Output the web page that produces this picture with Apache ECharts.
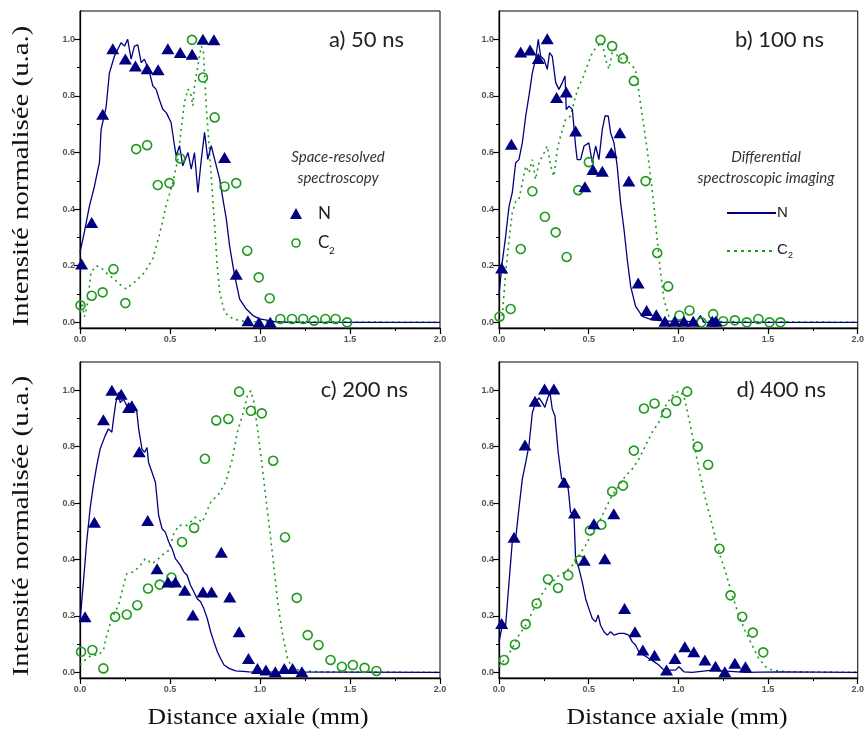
<!DOCTYPE html>
<html><head><meta charset="utf-8">
<script src="https://cdn.jsdelivr.net/npm/echarts@6/dist/echarts.min.js"></script>
<style>html,body{margin:0;padding:0;background:#fff}#c{width:867px;height:736px}</style>
</head><body><div id="c"></div>
<script>
// ---------- tick labels / titles ----------
const panelTitles = ['a) 50 ns', 'b) 100 ns', 'c) 200 ns', 'd) 400 ns'];
const yTickValues = [0, 0.2, 0.4, 0.6, 0.8, 1.0];
const yMinorValues = [0.1, 0.3, 0.5, 0.7, 0.9];
const yAxisTitle = 'Intensité normalisée (u.a.)';
const xAxisTitle = 'Distance axiale (mm)';

// ---------- panel a) 50 ns ----------
const nLineA = [[0,0.247],[0.024,0.318],[0.052,0.41],[0.08,0.48],[0.108,0.565],[0.117,0.68],[0.145,0.76],[0.163,0.88],[0.191,0.94],[0.21,0.965],[0.228,0.988],[0.247,0.976],[0.265,1.0],[0.284,0.93],[0.302,0.976],[0.321,0.98],[0.34,0.918],[0.358,0.93],[0.386,0.882],[0.405,0.835],[0.423,0.823],[0.44,0.788],[0.46,0.753],[0.48,0.74],[0.506,0.706],[0.525,0.624],[0.534,0.588],[0.553,0.624],[0.571,0.553],[0.6,0.6],[0.618,0.541],[0.636,0.6],[0.655,0.459],[0.674,0.576],[0.692,0.671],[0.71,0.576],[0.729,0.624],[0.748,0.576],[0.776,0.506],[0.794,0.435],[0.813,0.365],[0.831,0.27],[0.859,0.165],[0.887,0.082],[0.924,0.047],[0.961,0.024],[0.998,0.012],[1.09,0.002],[1.18,0],[2.0,0]];
const c2LineA = [[0,0.035],[0.012,0.07],[0.025,0.02],[0.04,0.06],[0.061,0.176],[0.089,0.2],[0.115,0.194],[0.152,0.171],[0.19,0.153],[0.219,0.135],[0.256,0.118],[0.302,0.141],[0.358,0.176],[0.404,0.224],[0.44,0.306],[0.478,0.412],[0.516,0.494],[0.544,0.576],[0.562,0.682],[0.58,0.776],[0.6,0.824],[0.618,0.8],[0.627,0.765],[0.636,0.835],[0.655,0.906],[0.674,0.976],[0.686,0.953],[0.701,0.765],[0.72,0.6],[0.735,0.459],[0.748,0.341],[0.761,0.212],[0.776,0.106],[0.803,0.035],[0.85,0.012],[0.924,0.002],[2.0,0]];
const nPtsA = [[0.009,0.206],[0.065,0.353],[0.126,0.735],[0.182,0.967],[0.252,0.93],[0.308,0.906],[0.373,0.896],[0.434,0.892],[0.488,0.967],[0.557,0.953],[0.623,0.947],[0.683,1.0],[0.744,0.998],[0.803,0.582],[0.868,0.17],[0.933,0.006],[0.994,0],[1.057,0]];
const c2PtsA = [[0.003,0.06],[0.065,0.094],[0.126,0.106],[0.186,0.188],[0.252,0.068],[0.312,0.612],[0.373,0.626],[0.432,0.485],[0.497,0.492],[0.557,0.579],[0.622,0.998],[0.683,0.865],[0.748,0.724],[0.803,0.48],[0.868,0.492],[0.929,0.253],[0.993,0.159],[1.054,0.085],[1.113,0.012],[1.178,0.012],[1.24,0.012],[1.3,0.006],[1.363,0.012],[1.42,0.012],[1.484,0]];

// ---------- panel b) 100 ns ----------
const nLineB = [[0,0.092],[0.015,0.198],[0.037,0.304],[0.056,0.41],[0.074,0.458],[0.093,0.564],[0.111,0.575],[0.13,0.634],[0.149,0.729],[0.167,0.8],[0.186,0.882],[0.204,0.929],[0.219,1.0],[0.232,0.94],[0.251,0.929],[0.269,0.894],[0.282,0.953],[0.297,0.94],[0.316,0.847],[0.334,0.823],[0.353,0.847],[0.368,0.87],[0.375,0.752],[0.39,0.764],[0.409,0.752],[0.427,0.623],[0.436,0.575],[0.455,0.575],[0.474,0.623],[0.501,0.634],[0.52,0.564],[0.539,0.623],[0.557,0.575],[0.576,0.682],[0.591,0.729],[0.609,0.729],[0.622,0.67],[0.641,0.634],[0.659,0.552],[0.678,0.422],[0.697,0.328],[0.715,0.222],[0.734,0.127],[0.761,0.057],[0.799,0.021],[0.854,0.009],[0.929,0.004],[1.04,0.004],[1.096,0],[1.123,0.024],[1.143,0],[2.0,0]];
const c2LineB = [[0,0.004],[0.019,0.027],[0.037,0.175],[0.056,0.292],[0.074,0.387],[0.093,0.428],[0.111,0.434],[0.13,0.493],[0.149,0.552],[0.167,0.528],[0.186,0.575],[0.204,0.505],[0.223,0.564],[0.251,0.599],[0.269,0.623],[0.288,0.552],[0.306,0.516],[0.325,0.611],[0.343,0.658],[0.371,0.717],[0.399,0.729],[0.427,0.8],[0.446,0.835],[0.468,0.864],[0.492,0.906],[0.52,0.953],[0.548,0.976],[0.576,0.988],[0.594,0.929],[0.613,0.894],[0.631,0.953],[0.65,0.965],[0.669,0.918],[0.697,0.953],[0.724,0.918],[0.761,0.894],[0.799,0.729],[0.826,0.611],[0.845,0.516],[0.864,0.41],[0.882,0.292],[0.901,0.175],[0.92,0.08],[0.947,0.021],[1.003,0.004],[2.0,0]];
const nPtsB = [[0.015,0.192],[0.069,0.629],[0.121,0.955],[0.173,0.962],[0.219,0.932],[0.269,1.002],[0.321,0.794],[0.375,0.814],[0.427,0.676],[0.479,0.479],[0.524,0.54],[0.576,0.534],[0.626,0.599],[0.674,0.67],[0.724,0.499],[0.776,0.139],[0.823,0.042],[0.877,0.027],[0.925,0.004],[0.98,0.004],[1.031,0.004],[1.083,0.004],[1.189,0.004],[1.21,0.004]];
const c2PtsB = [[0.003,0.02],[0.065,0.047],[0.121,0.259],[0.186,0.463],[0.256,0.373],[0.316,0.318],[0.377,0.231],[0.442,0.467],[0.501,0.566],[0.566,0.998],[0.631,0.976],[0.691,0.932],[0.752,0.853],[0.817,0.499],[0.882,0.245],[0.943,0.127],[1.006,0.024],[1.062,0.042],[1.128,0],[1.194,0.029],[1.25,0.004],[1.315,0.007],[1.381,0],[1.446,0.012],[1.508,0],[1.569,0]];

// ---------- panel c) 200 ns ----------
const nLineC = [[0,0.179],[0.019,0.32],[0.037,0.462],[0.056,0.58],[0.074,0.662],[0.093,0.733],[0.112,0.792],[0.14,0.839],[0.158,0.863],[0.177,0.851],[0.186,0.898],[0.199,0.956],[0.214,0.992],[0.223,0.956],[0.242,0.968],[0.26,0.945],[0.279,0.951],[0.298,0.945],[0.316,0.922],[0.326,0.863],[0.344,0.792],[0.359,0.78],[0.372,0.797],[0.381,0.744],[0.4,0.709],[0.419,0.674],[0.437,0.556],[0.456,0.509],[0.474,0.497],[0.493,0.462],[0.512,0.438],[0.53,0.403],[0.545,0.391],[0.558,0.379],[0.577,0.356],[0.595,0.344],[0.614,0.309],[0.633,0.285],[0.651,0.261],[0.67,0.25],[0.688,0.226],[0.707,0.191],[0.726,0.144],[0.744,0.108],[0.763,0.073],[0.781,0.049],[0.8,0.026],[0.828,0.014],[0.865,0.005],[0.94,0.002],[2.0,0]];
const c2LineC = [[0,0.026],[0.037,0.049],[0.065,0.061],[0.102,0.061],[0.13,0.079],[0.149,0.132],[0.177,0.191],[0.214,0.238],[0.242,0.309],[0.26,0.35],[0.298,0.356],[0.335,0.379],[0.363,0.403],[0.4,0.385],[0.437,0.403],[0.465,0.42],[0.493,0.432],[0.521,0.491],[0.549,0.521],[0.595,0.521],[0.642,0.55],[0.679,0.532],[0.726,0.603],[0.772,0.633],[0.809,0.674],[0.847,0.757],[0.874,0.851],[0.902,0.91],[0.93,0.98],[0.949,0.998],[0.967,0.956],[0.986,0.863],[1.014,0.721],[1.042,0.568],[1.07,0.415],[1.098,0.25],[1.126,0.132],[1.153,0.049],[1.181,0.014],[1.237,0.005],[1.33,0.002],[2.0,0]];
const nPtsC = [[0.028,0.197],[0.08,0.532],[0.13,0.895],[0.177,1.0],[0.229,0.986],[0.27,0.939],[0.288,0.945],[0.329,0.782],[0.376,0.538],[0.428,0.367],[0.489,0.32],[0.53,0.32],[0.582,0.291],[0.627,0.203],[0.683,0.285],[0.731,0.285],[0.785,0.426],[0.832,0.267],[0.884,0.144],[0.936,0.049],[0.986,0.014],[1.033,0.008],[1.085,0.002],[1.135,0.014],[1.181,0.014],[1.233,0.002]];
const c2PtsC = [[0.006,0.073],[0.069,0.079],[0.13,0.014],[0.195,0.197],[0.26,0.205],[0.318,0.238],[0.378,0.297],[0.443,0.311],[0.508,0.336],[0.567,0.462],[0.634,0.512],[0.694,0.757],[0.757,0.893],[0.824,0.898],[0.884,0.995],[0.949,0.927],[1.01,0.918],[1.073,0.75],[1.139,0.479],[1.204,0.264],[1.265,0.132],[1.325,0.097],[1.392,0.044],[1.455,0.02],[1.516,0.026],[1.581,0.016],[1.647,0.005]];

// ---------- panel d) 400 ns ----------
const nLineD = [[0,0.108],[0.015,0.155],[0.037,0.167],[0.059,0.344],[0.074,0.462],[0.093,0.474],[0.111,0.58],[0.13,0.686],[0.149,0.744],[0.167,0.804],[0.186,0.921],[0.204,0.956],[0.223,0.973],[0.241,0.956],[0.256,0.939],[0.269,0.968],[0.284,0.992],[0.297,0.933],[0.312,0.909],[0.33,0.78],[0.349,0.686],[0.368,0.686],[0.386,0.65],[0.399,0.568],[0.418,0.556],[0.427,0.403],[0.446,0.367],[0.464,0.32],[0.483,0.261],[0.501,0.226],[0.52,0.191],[0.539,0.179],[0.553,0.203],[0.566,0.167],[0.585,0.144],[0.604,0.132],[0.622,0.144],[0.641,0.132],[0.669,0.138],[0.697,0.138],[0.724,0.132],[0.743,0.108],[0.761,0.097],[0.78,0.073],[0.808,0.061],[0.836,0.049],[0.864,0.038],[0.891,0.026],[0.919,0.008],[0.947,0.008],[0.984,0.008],[1.003,0.02],[1.031,0.002],[1.077,0],[1.189,0.008],[1.374,0],[1.56,0.002],[2.0,0]];
const c2LineD = [[0,0.02],[0.037,0.049],[0.074,0.085],[0.111,0.132],[0.149,0.167],[0.186,0.214],[0.223,0.261],[0.26,0.297],[0.297,0.32],[0.334,0.344],[0.371,0.356],[0.409,0.379],[0.446,0.415],[0.483,0.45],[0.52,0.497],[0.557,0.532],[0.594,0.58],[0.631,0.627],[0.669,0.662],[0.706,0.697],[0.743,0.721],[0.78,0.756],[0.817,0.804],[0.854,0.851],[0.891,0.886],[0.929,0.945],[0.966,0.98],[1.003,0.998],[1.031,0.98],[1.059,0.898],[1.086,0.815],[1.114,0.721],[1.151,0.615],[1.189,0.521],[1.226,0.426],[1.263,0.356],[1.3,0.273],[1.337,0.203],[1.374,0.144],[1.411,0.097],[1.448,0.049],[1.486,0.02],[1.523,0.008],[1.597,0.002],[2.0,0]];
const nPtsD = [[0.015,0.173],[0.084,0.479],[0.145,0.806],[0.201,0.961],[0.254,1.004],[0.306,1.004],[0.362,0.674],[0.421,0.565],[0.475,0.397],[0.529,0.527],[0.59,0.403],[0.64,0.562],[0.7,0.226],[0.758,0.144],[0.802,0.079],[0.867,0.061],[0.934,0.008],[0.981,0.049],[1.036,0.091],[1.086,0.073],[1.148,0.044],[1.207,0.022],[1.259,0.002],[1.315,0.032],[1.374,0.02]];
const c2PtsD = [[0.028,0.044],[0.089,0.099],[0.149,0.171],[0.21,0.244],[0.273,0.33],[0.329,0.299],[0.386,0.344],[0.449,0.397],[0.507,0.503],[0.57,0.523],[0.631,0.641],[0.691,0.662],[0.752,0.786],[0.808,0.935],[0.867,0.953],[0.932,0.919],[0.988,0.962],[1.049,0.995],[1.108,0.8],[1.166,0.736],[1.229,0.438],[1.291,0.273],[1.356,0.197],[1.415,0.141],[1.473,0.071]];

// ---------- build ----------
const NAVY = '#000080', GREEN = '#1e9a1e';
const panels = [
  {nLine:nLineA, c2Line:c2LineA, nPts:nPtsA, c2Pts:c2PtsA},
  {nLine:nLineB, c2Line:c2LineB, nPts:nPtsB, c2Pts:c2PtsB},
  {nLine:nLineC, c2Line:c2LineC, nPts:nPtsC, c2Pts:c2PtsC},
  {nLine:nLineD, c2Line:c2LineD, nPts:nPtsD, c2Pts:c2PtsD}
];
const gridPos = [
  {left:80, top:11, width:360, height:317},
  {left:499, top:11, width:360, height:317},
  {left:80, top:362, width:360, height:316},
  {left:499, top:362, width:360, height:316}
];
const labelStyle = {fontSize:9, color:'#555', fontWeight:'bold', fontFamily:'Liberation Sans'};
const grid = [], xAxis = [], yAxis = [], series = [];
gridPos.forEach((g, i) => {
  grid.push(Object.assign({show:true, borderColor:'#000', borderWidth:1, backgroundColor:'#fff'}, g));
  xAxis.push({type:'value', gridIndex:i, min:0, max:2, interval:0.5,
    axisLine:{onZero:false, lineStyle:{color:'#000', width:1.3}},
    axisTick:{inside:false, length:6, lineStyle:{color:'#000', width:1.2}},
    minorTick:{show:true, splitNumber:2, length:3, lineStyle:{color:'#000', width:1}},
    splitLine:{show:false}, minorSplitLine:{show:false},
    axisLabel:Object.assign({margin:7, formatter:v => v.toFixed(1)}, labelStyle)});
  yAxis.push({type:'value', gridIndex:i, min:-0.02, max:1.1,
    axisLine:{onZero:false, lineStyle:{color:'#000', width:1.3}},
    axisTick:{inside:false, length:6, customValues:yTickValues, lineStyle:{color:'#000', width:1.2}},
    splitLine:{show:false},
    axisLabel:Object.assign({margin:5, customValues:yTickValues, formatter:v => v.toFixed(1)}, labelStyle)});
  yAxis.push({type:'value', gridIndex:i, min:-0.02, max:1.1,
    axisLine:{show:false},
    axisTick:{inside:true, length:3, customValues:yMinorValues, lineStyle:{color:'#000', width:1}},
    splitLine:{show:false}, axisLabel:{show:false}});
  const p = panels[i];
  series.push({type:'line', xAxisIndex:i, yAxisIndex:2*i, data:p.c2Line, showSymbol:false, silent:true,
    lineStyle:{color:GREEN, width:1.6, type:[2,4]}, z:2});
  series.push({type:'line', xAxisIndex:i, yAxisIndex:2*i, data:p.nLine, showSymbol:false, silent:true,
    lineStyle:{color:NAVY, width:1.3}, z:3});
  series.push({type:'scatter', xAxisIndex:i, yAxisIndex:2*i, data:p.c2Pts, symbol:'circle', symbolSize:9,
    itemStyle:{color:'rgba(255,255,255,0)', borderColor:GREEN, borderWidth:1.6, opacity:1}, z:4});
  series.push({type:'scatter', xAxisIndex:i, yAxisIndex:2*i, data:p.nPts, symbol:'triangle', symbolSize:[13,11],
    itemStyle:{color:NAVY, opacity:1}, z:5});
});

const titlePos = [[404,40],[824,40],[408,390],[826,390]];
const graphic = [];
panelTitles.forEach((t, i) => {
  graphic.push({type:'text', x:titlePos[i][0], y:titlePos[i][1], z:10,
    style:{text:t, textAlign:'right', textVerticalAlign:'middle', fontSize:22, fontFamily:'Lato', fill:'#222'}});
});
// axis titles
[176, 526].forEach(cy => graphic.push({type:'text', x:22, y:cy, rotation:Math.PI/2, scaleX:1.2, z:10,
  style:{text:yAxisTitle, textAlign:'center', textVerticalAlign:'middle', fontSize:24, fontFamily:'Liberation Serif', fill:'#111'}}));
[258, 677].forEach(cx => graphic.push({type:'text', x:cx, y:718, scaleX:1.07, z:10,
  style:{text:xAxisTitle, textAlign:'center', textVerticalAlign:'middle', fontSize:24, fontFamily:'Liberation Serif', fill:'#111'}}));
// legend a
const it = {fontSize:15, fontStyle:'italic', fontFamily:'Lato', fill:'#333', textAlign:'center', textVerticalAlign:'middle'};
graphic.push({type:'text', x:338, y:157, z:10, style:Object.assign({text:'Space-resolved'}, it)});
graphic.push({type:'text', x:338, y:178, z:10, style:Object.assign({text:'spectroscopy'}, it)});
graphic.push({type:'polygon', z:10, shape:{points:[[290,219],[302,219],[296,208]]}, style:{fill:NAVY}});
graphic.push({type:'circle', z:10, shape:{cx:296, cy:243, r:4}, style:{fill:'none', stroke:GREEN, lineWidth:1.6}});
const lg = {fontSize:17, fontFamily:'Lato', fill:'#222', textAlign:'left', textVerticalAlign:'middle'};
const sub = {fontSize:10, fontFamily:'Lato', fill:'#222', textAlign:'left', textVerticalAlign:'middle'};
graphic.push({type:'text', x:318, y:214, z:10, style:Object.assign({text:'N'}, lg)});
graphic.push({type:'text', x:318, y:243, z:10, style:Object.assign({text:'C'}, lg)});
graphic.push({type:'text', x:329, y:251, z:10, style:Object.assign({text:'2'}, sub)});
// legend b
graphic.push({type:'text', x:766, y:157, z:10, style:Object.assign({text:'Differential'}, it)});
graphic.push({type:'text', x:766, y:178, z:10, style:Object.assign({text:'spectroscopic imaging'}, it)});
graphic.push({type:'line', z:10, shape:{x1:727, y1:213, x2:776, y2:213}, style:{stroke:NAVY, lineWidth:2}});
graphic.push({type:'line', z:10, shape:{x1:727, y1:251, x2:776, y2:251}, style:{stroke:GREEN, lineWidth:2, lineDash:[3,4]}});
const lg2 = {fontSize:15, fontFamily:'Liberation Sans Narrow, Liberation Sans', fill:'#222', textAlign:'left', textVerticalAlign:'middle'};
graphic.push({type:'text', x:777, y:213, z:10, style:Object.assign({text:'N'}, lg2)});
graphic.push({type:'text', x:777, y:250, z:10, style:Object.assign({text:'C'}, lg2)});
graphic.push({type:'text', x:788, y:256, z:10, style:Object.assign({text:'2'}, lg2, {fontSize:9})});

const chart = echarts.init(document.getElementById('c'), null, {renderer:'canvas'});
chart.setOption({animation:false, backgroundColor:'#fff', grid, xAxis, yAxis, series, graphic});
</script></body></html>
